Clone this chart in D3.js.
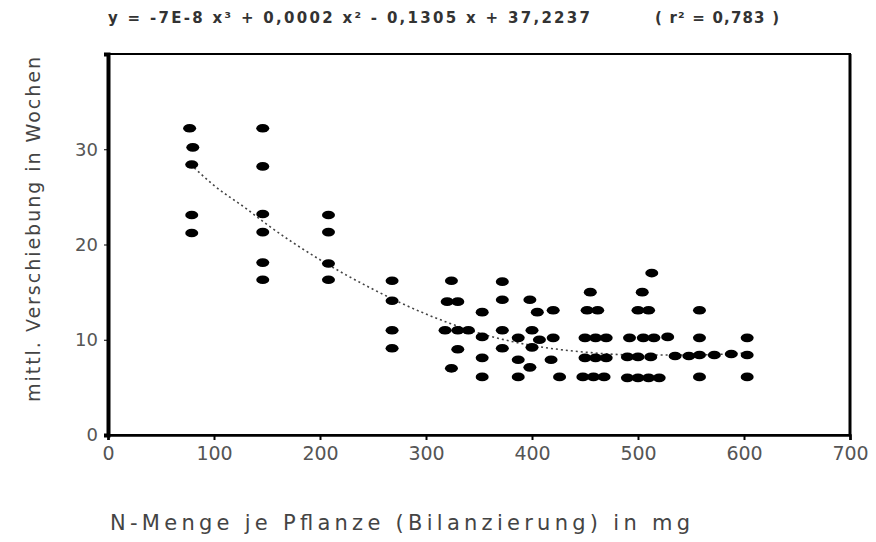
<!DOCTYPE html>
<html>
<head>
<meta charset="utf-8">
<script src="https://cdn.jsdelivr.net/npm/d3@7"></script>
<style>
  body { margin: 0; background: #fff; }
  text { font-family: "DejaVu Sans", Arial, sans-serif; }
</style>
</head>
<body>
<script>
// N amount per plant (mg) and measured value for each plant
const nAmount = [
  77, 80, 79, 79, 79,
  146, 146, 146, 146, 146, 146,
  208, 208, 208, 208,
  268, 268, 268, 268,
  324, 320, 330, 318, 330, 340, 330, 324,
  353, 353, 353, 353,
  372, 372, 372, 372,
  387, 387, 387,
  398, 405, 400, 407, 400, 398,
  420, 420, 418, 426,
  455, 452, 462, 450, 460, 470, 450, 460, 470, 448, 458, 468,
  513, 504, 500, 510, 492, 505, 515, 490, 500, 512, 490, 500, 510, 520,
  528, 535, 548, 572, 588,
  558, 558, 558, 558,
  603, 603, 603
];
const meanValue = [
  32.2, 30.2, 28.4, 23.1, 21.2,
  32.2, 28.2, 23.2, 21.3, 18.1, 16.3,
  23.1, 21.3, 18.0, 16.3,
  16.2, 14.1, 11.0, 9.1,
  16.2, 14.0, 14.0, 11.0, 11.0, 11.0, 9.0, 7.0,
  12.9, 10.3, 8.1, 6.1,
  16.1, 14.2, 11.0, 9.1,
  10.2, 7.9, 6.1,
  14.2, 12.9, 11.0, 10.0, 9.2, 7.1,
  13.1, 10.2, 7.9, 6.1,
  15.0, 13.1, 13.1, 10.2, 10.2, 10.2, 8.1, 8.1, 8.1, 6.1, 6.1, 6.1,
  17.0, 15.0, 13.1, 13.1, 10.2, 10.2, 10.2, 8.2, 8.2, 8.2, 6.0, 6.0, 6.0, 6.0,
  10.3, 8.3, 8.3, 8.4, 8.5,
  13.1, 10.2, 8.4, 6.1,
  10.2, 8.4, 6.1
];

// trend line
const trendX = [78, 100, 130, 150, 200, 250, 300, 350, 400, 450, 500, 550, 600];
const trendY = [28.4, 26.2, 23.8, 22.1, 18.4, 15.3, 12.7, 10.7, 9.4, 8.7, 8.4, 8.4, 8.6];

const xTicks = [0, 100, 200, 300, 400, 500, 600, 700];
const yTicks = [0, 10, 20, 30];

const equationText = "y = -7E-8 x³ + 0,0002 x² - 0,1305 x + 37,2237";
const rSquaredText = "( r² = 0,783 )";
const xTitle = "N-Menge je Pflanze (Bilanzierung) in mg";
const yTitle = "mittl. Verschiebung in Wochen";

const width = 876, height = 542;

const x = d3.scaleLinear().domain([0, 700]).range([108, 850]);
const y = d3.scaleLinear().domain([0, 40]).range([435, 54]);

const svg = d3.select("body").append("svg")
  .attr("width", width)
  .attr("height", height);

// frame
svg.append("rect")
  .attr("x", x(0)).attr("y", y(40))
  .attr("width", x(700) - x(0)).attr("height", y(0) - y(40))
  .attr("fill", "none")
  .attr("stroke", "#000")
  .attr("stroke-width", 2);
svg.append("line")
  .attr("x1", x(700)).attr("x2", x(700))
  .attr("y1", y(40)).attr("y2", y(0))
  .attr("stroke", "#000")
  .attr("stroke-width", 3);

// axes
const xAxis = svg.append("g")
  .attr("transform", `translate(0,${y(0)})`)
  .call(d3.axisBottom(x).tickValues(xTicks).tickSize(5).tickPadding(7).tickFormat(d3.format("d")));
xAxis.select(".domain").attr("stroke-width", 2.5);
xAxis.selectAll("line").attr("stroke-width", 2);
xAxis.selectAll("text").attr("font-size", 19).attr("fill", "#555");

const yAxis = svg.append("g")
  .attr("transform", `translate(${x(0)},0)`)
  .call(d3.axisLeft(y).tickValues(yTicks).tickSize(4).tickPadding(6).tickFormat(d3.format("d")));
yAxis.select(".domain").attr("stroke-width", 4);
yAxis.selectAll("text").attr("font-size", 18).attr("fill", "#555");

// trend line
const trend = trendX.map((d, i) => [d, trendY[i]]);
svg.append("path")
  .datum(trend)
  .attr("fill", "none")
  .attr("stroke", "#444")
  .attr("stroke-width", 1.6)
  .attr("stroke-dasharray", "2,3")
  .attr("d", d3.line().x(d => x(d[0])).y(d => y(d[1])).curve(d3.curveMonotoneX));

// points
svg.append("g").selectAll("ellipse")
  .data(nAmount.map((d, i) => [d, meanValue[i]]))
  .enter()
  .append("ellipse")
  .attr("cx", d => x(d[0]))
  .attr("cy", d => y(d[1]))
  .attr("rx", 6.5)
  .attr("ry", 4.3)
  .attr("fill", "#000");

// titles
svg.append("text")
  .attr("x", 108).attr("y", 23)
  .attr("textLength", 482)
  .attr("lengthAdjust", "spacing")
  .attr("font-size", 15)
  .attr("font-weight", "bold")
  .attr("fill", "#333")
  .text(equationText);

svg.append("text")
  .attr("x", 655).attr("y", 23)
  .attr("textLength", 124)
  .attr("lengthAdjust", "spacing")
  .attr("font-size", 15)
  .attr("font-weight", "bold")
  .attr("fill", "#333")
  .text(rSquaredText);

svg.append("text")
  .attr("x", 110).attr("y", 530)
  .attr("textLength", 580)
  .attr("lengthAdjust", "spacing")
  .attr("font-size", 21)
  .attr("fill", "#444")
  .text(xTitle);

svg.append("text")
  .attr("transform", "translate(40,402) rotate(-90)")
  .attr("textLength", 345)
  .attr("lengthAdjust", "spacing")
  .attr("font-size", 19)
  .attr("fill", "#444")
  .text(yTitle);
</script>
</body>
</html>
